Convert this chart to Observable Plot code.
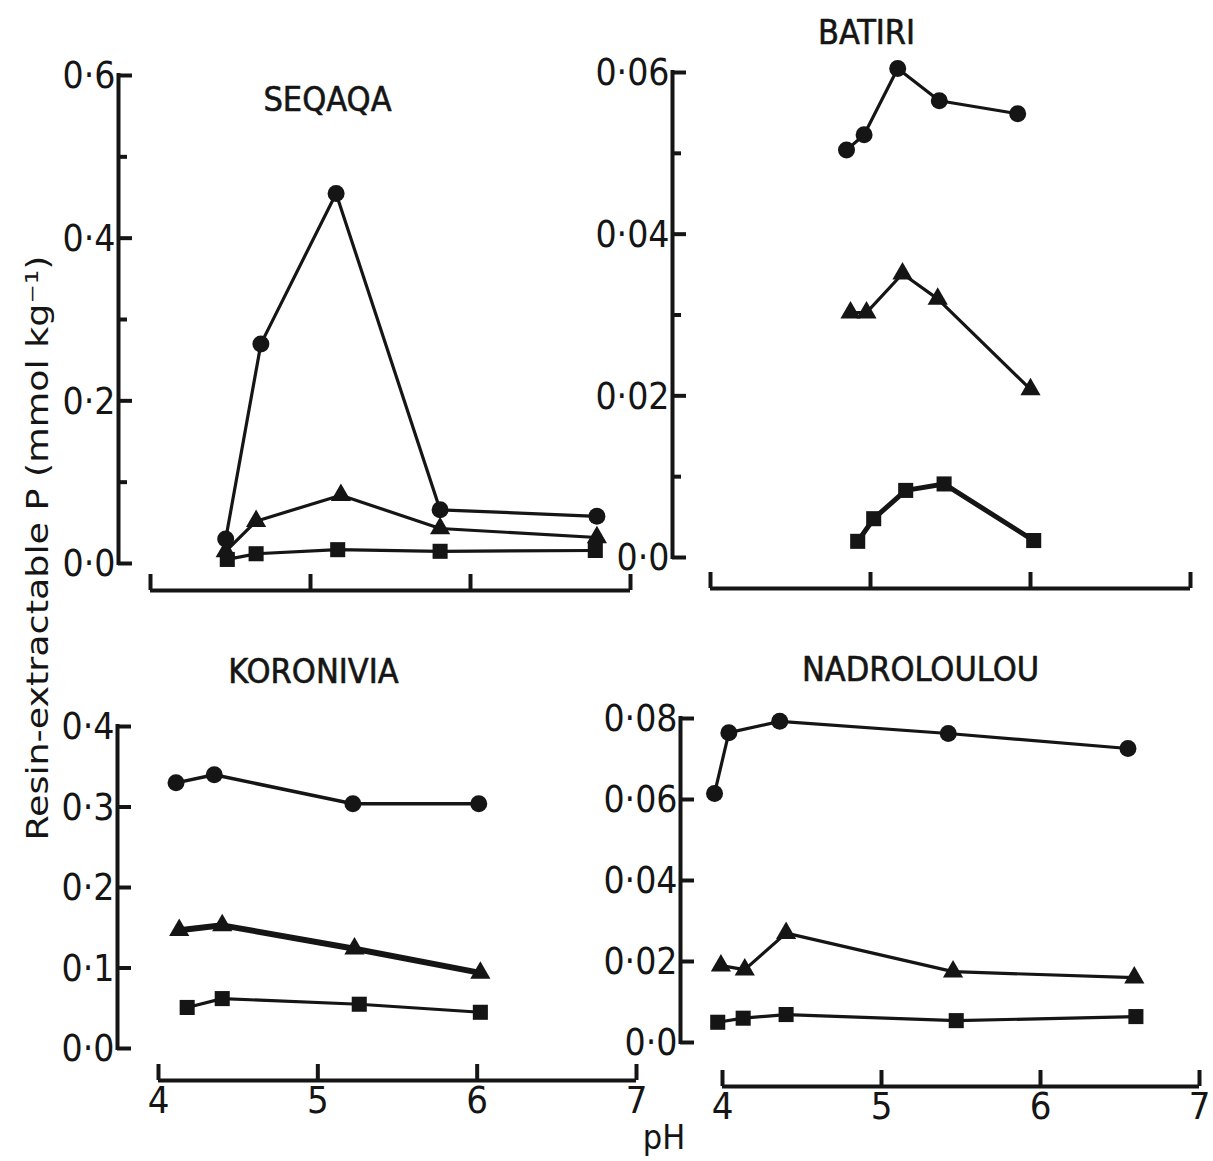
<!DOCTYPE html>
<html>
<head>
<meta charset="utf-8">
<script src="https://cdn.jsdelivr.net/npm/d3@7"></script>
<script src="https://cdn.jsdelivr.net/npm/@observablehq/plot@0.6"></script>
<style>
  body { margin: 0; background: #fff; }
  #wrap { position: relative; width: 1213px; height: 1161px; background: #fff; overflow: hidden; }
  #wrap svg.layer { position: absolute; left: 0; top: 0; }
</style>
</head>
<body>
<div id="wrap"></div>
<script>
// ---------------- DATA ----------------
const sites = ["SEQAQA", "BATIRI", "KORONIVIA", "NADROLOULOU"];
const seriesNames = ["circle", "triangle", "square"];

// SEQAQA
const seqaqaCirclePH   = [4.47, 4.69, 5.16, 5.81, 6.79];
const seqaqaCircleP    = [0.030, 0.270, 0.455, 0.066, 0.058];
const seqaqaTrianglePH = [4.47, 4.66, 5.19, 5.81, 6.79];
const seqaqaTriangleP  = [0.015, 0.052, 0.084, 0.043, 0.032];
const seqaqaSquarePH   = [4.48, 4.66, 5.17, 5.81, 6.78];
const seqaqaSquareP    = [0.005, 0.012, 0.017, 0.015, 0.016];

// BATIRI
const batiriCirclePH   = [4.85, 4.96, 5.17, 5.43, 5.92];
const batiriCircleP    = [0.0504, 0.0523, 0.0605, 0.0565, 0.0549];
const batiriTrianglePH = [4.875, 4.975, 5.20, 5.42, 6.00];
const batiriTriangleP  = [0.0303, 0.0303, 0.0351, 0.0320, 0.0208];
const batiriSquarePH   = [4.92, 5.02, 5.22, 5.46, 6.02];
const batiriSquareP    = [0.0020, 0.0048, 0.0083, 0.0091, 0.0021];

// KORONIVIA
const koroniviaCirclePH   = [4.11, 4.35, 5.22, 6.01];
const koroniviaCircleP    = [0.330, 0.340, 0.304, 0.304];
const koroniviaTrianglePH = [4.13, 4.40, 5.23, 6.02];
const koroniviaTriangleP  = [0.147, 0.153, 0.124, 0.094];
const koroniviaSquarePH   = [4.18, 4.40, 5.26, 6.02];
const koroniviaSquareP    = [0.051, 0.062, 0.055, 0.045];

// NADROLOULOU
const nadroCirclePH   = [3.95, 4.04, 4.36, 5.42, 6.55];
const nadroCircleP    = [0.0615, 0.0765, 0.0793, 0.0763, 0.0726];
const nadroTrianglePH = [3.99, 4.14, 4.40, 5.45, 6.59];
const nadroTriangleP  = [0.0190, 0.0180, 0.0270, 0.0175, 0.0160];
const nadroSquarePH   = [3.97, 4.13, 4.40, 5.47, 6.60];
const nadroSquareP    = [0.0050, 0.0060, 0.0069, 0.0054, 0.0064];

// Axis ticks and labels
const xTicks = [4, 5, 6, 7];
const xTickLabels = ["4", "5", "6", "7"];
const seqaqaYTicks = [0, 0.1, 0.2, 0.3, 0.4, 0.5, 0.6];
const seqaqaYLabelTicks = [0, 0.2, 0.4, 0.6];
const seqaqaYLabels = ["0·0", "0·2", "0·4", "0·6"];
const batiriYTicks = [0, 0.01, 0.02, 0.03, 0.04, 0.05, 0.06];
const batiriYLabelTicks = [0, 0.02, 0.04, 0.06];
const batiriYLabels = ["0·0", "0·02", "0·04", "0·06"];
const koroniviaYTicks = [0, 0.1, 0.2, 0.3, 0.4];
const koroniviaYLabelTicks = [0, 0.1, 0.2, 0.3, 0.4];
const koroniviaYLabels = ["0·0", "0·1", "0·2", "0·3", "0·4"];
const nadroYTicks = [0, 0.02, 0.04, 0.06, 0.08];
const nadroYLabelTicks = [0, 0.02, 0.04, 0.06, 0.08];
const nadroYLabels = ["0·0", "0·02", "0·04", "0·06", "0·08"];

const yAxisTitle = "Resin-extractable P (mmol kg⁻¹)";
const xAxisTitle = "pH";

// ---------------- BUILD TABLES ----------------
function rowsOf(site, series, phs, ps) {
  return phs.map((pH, i) => ({site, series, pH, P: ps[i]}));
}
const siteData = {
  SEQAQA: [
    ...rowsOf("SEQAQA", "circle", seqaqaCirclePH, seqaqaCircleP),
    ...rowsOf("SEQAQA", "triangle", seqaqaTrianglePH, seqaqaTriangleP),
    ...rowsOf("SEQAQA", "square", seqaqaSquarePH, seqaqaSquareP)],
  BATIRI: [
    ...rowsOf("BATIRI", "circle", batiriCirclePH, batiriCircleP),
    ...rowsOf("BATIRI", "triangle", batiriTrianglePH, batiriTriangleP),
    ...rowsOf("BATIRI", "square", batiriSquarePH, batiriSquareP)],
  KORONIVIA: [
    ...rowsOf("KORONIVIA", "circle", koroniviaCirclePH, koroniviaCircleP),
    ...rowsOf("KORONIVIA", "triangle", koroniviaTrianglePH, koroniviaTriangleP),
    ...rowsOf("KORONIVIA", "square", koroniviaSquarePH, koroniviaSquareP)],
  NADROLOULOU: [
    ...rowsOf("NADROLOULOU", "circle", nadroCirclePH, nadroCircleP),
    ...rowsOf("NADROLOULOU", "triangle", nadroTrianglePH, nadroTriangleP),
    ...rowsOf("NADROLOULOU", "square", nadroSquarePH, nadroSquareP)]
};

// ---------------- LAYOUT (pixel placement of each panel) ----------------
const W = 1213, H = 1161;
const INK = "#151515";
const FONT = "'DejaVu Sans Condensed', 'DejaVu Sans', sans-serif";

const layout = {
  SEQAQA:      {x4: 150, x7: 630,  y0: 563,  yTop: 75,  yMax: 0.6,  yAxisPx: 118, xAxisPx: 590,  title: [327, 100], titleLS: 6, xLabels: false,
                ticks: seqaqaYTicks, labelTicks: seqaqaYLabelTicks, labels: seqaqaYLabels, lw: {circle: 3.2, triangle: 3.2, square: 3.2}},
  BATIRI:      {x4: 710, x7: 1190, y0: 557,  yTop: 72,  yMax: 0.06, yAxisPx: 672, xAxisPx: 588,  title: [866, 33],  titleLS: 1, xLabels: false,
                ticks: batiriYTicks, labelTicks: batiriYLabelTicks, labels: batiriYLabels, lw: {circle: 3.2, triangle: 3.2, square: 5}},
  KORONIVIA:   {x4: 158, x7: 636,  y0: 1048, yTop: 726, yMax: 0.4,  yAxisPx: 117, xAxisPx: 1080, title: [313, 672], titleLS: 1, xLabels: true, xLabelPx: 1100,
                ticks: koroniviaYTicks, labelTicks: koroniviaYLabelTicks, labels: koroniviaYLabels, lw: {circle: 3.5, triangle: 6, square: 3.2}},
  NADROLOULOU: {x4: 722, x7: 1199, y0: 1042, yTop: 718, yMax: 0.08, yAxisPx: 680, xAxisPx: 1086, title: [920, 670], titleLS: 1, xLabels: true, xLabelPx: 1106,
                ticks: nadroYTicks, labelTicks: nadroYLabelTicks, labels: nadroYLabels, lw: {circle: 3.2, triangle: 3.2, square: 3.2}}
};

const markerR = {circle: 8.5, triangle: 7.5, square: 8.5};

function panel(site) {
  const L = layout[site];
  const xs = d3.scaleLinear([4, 7], [L.x4, L.x7]);
  const ys = d3.scaleLinear([0, L.yMax], [L.y0, L.yTop]);
  const yAxisX = xs.invert(L.yAxisPx);
  const xAxisY = ys.invert(L.xAxisPx);
  const majorLen = xs.invert(L.yAxisPx + 14) - yAxisX;
  const minorLen = xs.invert(L.yAxisPx + 9) - yAxisX;
  const xTickTop = ys.invert(L.xAxisPx - 16);
  const labelSet = new Set(L.labelTicks);
  const data = siteData[site];

  const marks = [
    // y axis
    Plot.ruleX([yAxisX], {y1: 0, y2: L.yMax, stroke: INK, strokeWidth: 4, strokeLinecap: "square"}),
    Plot.ruleY(L.ticks, {x1: yAxisX, x2: d => yAxisX + (labelSet.has(d) ? majorLen : minorLen), stroke: INK, strokeWidth: 4}),
    Plot.text(L.labelTicks, {x: yAxisX, y: d => d, text: (d, i) => L.labels[i], textAnchor: "end", dx: -3, dy: 1,
      fontSize: 37, fontFamily: FONT, fill: INK, letterSpacing: -5}),
    // detached x axis
    Plot.ruleY([xAxisY], {x1: 4, x2: 7, stroke: INK, strokeWidth: 4}),
    Plot.ruleX(xTicks, {y1: xAxisY, y2: xTickTop, stroke: INK, strokeWidth: 4}),
    // title
    Plot.text([site], {x: xs.invert(L.title[0]), y: ys.invert(L.title[1]), text: d => d, fontSize: 34,
      fontFamily: FONT, fill: INK, letterSpacing: L.titleLS, stroke: INK, strokeWidth: 0.6})
  ];
  if (L.xLabels) {
    marks.push(Plot.text(xTicks, {x: d => d, y: ys.invert(L.xLabelPx), text: (d, i) => xTickLabels[i],
      fontSize: 38, fontFamily: FONT, fill: INK, lineAnchor: "middle"}));
  }
  for (const s of seriesNames) {
    const rows = data.filter(d => d.series === s);
    marks.push(Plot.line(rows, {x: "pH", y: "P", stroke: INK, strokeWidth: L.lw[s], strokeLinejoin: "round"}));
  }
  for (const s of seriesNames) {
    const rows = data.filter(d => d.series === s);
    marks.push(Plot.dot(rows, {x: "pH", y: "P", symbol: s, r: markerR[s], fill: INK, stroke: "none"}));
  }

  const svg = Plot.plot({
    width: W, height: H, margin: 0,
    x: {domain: [4, 7], range: [L.x4, L.x7], axis: null},
    y: {domain: [0, L.yMax], range: [L.y0, L.yTop], axis: null},
    style: {background: "transparent", overflow: "visible"},
    marks
  });
  svg.classList.add("layer");
  return svg;
}

const wrap = document.getElementById("wrap");
for (const s of sites) wrap.appendChild(panel(s));

// Shared axis titles
const ns = "http://www.w3.org/2000/svg";
const over = document.createElementNS(ns, "svg");
over.setAttribute("width", W); over.setAttribute("height", H);
over.setAttribute("class", "layer");
const yt = document.createElementNS(ns, "text");
yt.setAttribute("transform", "translate(48,548) rotate(-90)");
yt.setAttribute("text-anchor", "middle");
yt.setAttribute("font-family", FONT);
yt.setAttribute("font-size", "31");
yt.setAttribute("fill", INK);
yt.setAttribute("textLength", "585");
yt.setAttribute("lengthAdjust", "spacingAndGlyphs");
yt.textContent = yAxisTitle;
over.appendChild(yt);
const xt = document.createElementNS(ns, "text");
xt.setAttribute("x", 664); xt.setAttribute("y", 1149);
xt.setAttribute("text-anchor", "middle");
xt.setAttribute("font-family", FONT);
xt.setAttribute("font-size", "34");
xt.setAttribute("fill", INK);
xt.textContent = xAxisTitle;
over.appendChild(xt);
wrap.appendChild(over);
</script>
</body>
</html>
